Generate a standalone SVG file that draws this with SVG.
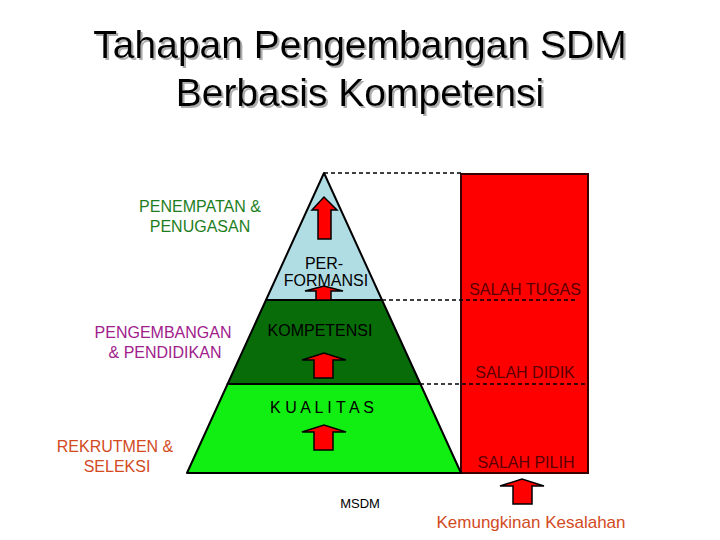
<svg xmlns="http://www.w3.org/2000/svg" width="720" height="540" viewBox="0 0 720 540">
<defs>
<filter id="shadow" x="-5%" y="-20%" width="110%" height="140%">
<feDropShadow dx="2" dy="2" stdDeviation="0.6" flood-color="#999" flood-opacity="0.8"/>
</filter>
<style>
text{font-family:"Liberation Sans",Arial,sans-serif;text-anchor:middle}
.title{font-size:39px;fill:#000;filter:url(#shadow)}
.lbl{font-size:16px;fill:#000}
.red-lbl{font-size:16px;fill:#5a0000}
.green{fill:#1e7e1e}
.purple{fill:#a0208c}
.orange{fill:#d24a1e}
.lvl{stroke:#000;stroke-width:2;stroke-linejoin:round}
.arrow{fill:#ff0000;stroke:#000;stroke-width:1.5;stroke-linejoin:miter}
.dash{stroke:#000;stroke-width:1.5;stroke-dasharray:4 3;fill:none}
</style>
</defs>
<rect width="720" height="540" fill="#fff"/>
<g id="title">
<text class="title" x="360" y="58">Tahapan Pengembangan SDM</text>
<text class="title" x="360" y="106">Berbasis Kompetensi</text>
</g>
<g id="kesalahan-box">
<rect x="461" y="174" width="127" height="299" fill="#ff0000" stroke="#3a0000" stroke-width="2"/>
<text class="red-lbl" x="525" y="295">SALAH TUGAS</text>
<text class="red-lbl" x="525" y="378">SALAH DIDIK</text>
<text class="red-lbl" x="526" y="468">SALAH PILIH</text>
</g>
<g id="level-kualitas">
<polygon class="lvl" points="227.6,384 420.4,384 461,473 187,473" fill="#11ee11"/>
<text class="lbl" x="322" y="413">K U A L I T A S</text>
</g>
<g id="level-kompetensi">
<polygon class="lvl" points="266,300 382,300 420.4,384 227.6,384" fill="#086c08"/>
<text class="lbl" x="320" y="336">KOMPETENSI</text>
</g>
<g id="level-performansi">
<polygon class="lvl" points="324,173 382,300 266,300" fill="#b0dce4"/>
</g>
<g id="connectors">
<line class="dash" x1="324" y1="173" x2="461" y2="173"/>
<line class="dash" x1="382" y1="300" x2="577" y2="300"/>
<line class="dash" x1="420" y1="384" x2="588" y2="384"/>
<polygon class="arrow" points="324,197 312,210 318,210 318,239 331,239 331,210 337,210"/>
<polygon class="arrow" points="305,291 324,286 343,291 331,291 331,300 316,300 316,291"/>
<polygon class="arrow" points="302,360 324,353 346,360 333,360 333,378 314,378 314,360"/>
<polygon class="arrow" points="302,432 324,425 346,432 333,432 333,450 314,450 314,432"/>
<polygon class="arrow" points="500,486 522,479 544,486 532,486 532,504 513,504 513,486"/>
</g>
<g id="performansi-label">
<text class="lbl" x="324" y="269">PER-</text>
<text class="lbl" x="326" y="286">FORMANSI</text>
</g>
<g id="penempatan">
<text class="lbl green" x="200" y="212">PENEMPATAN &amp;</text>
<text class="lbl green" x="200" y="232">PENUGASAN</text>
</g>
<g id="pengembangan">
<text class="lbl purple" x="163" y="338">PENGEMBANGAN</text>
<text class="lbl purple" x="165" y="358">&amp; PENDIDIKAN</text>
</g>
<g id="rekrutmen">
<text class="lbl orange" x="115" y="452">REKRUTMEN &amp;</text>
<text class="lbl orange" x="117" y="472">SELEKSI</text>
</g>
<g id="msdm">
<text x="360" y="508" style="font-size:13px;fill:#000">MSDM</text>
</g>
<g id="kemungkinan">
<text class="orange" x="531" y="528" style="font-size:17px">Kemungkinan Kesalahan</text>
</g>
</svg>
